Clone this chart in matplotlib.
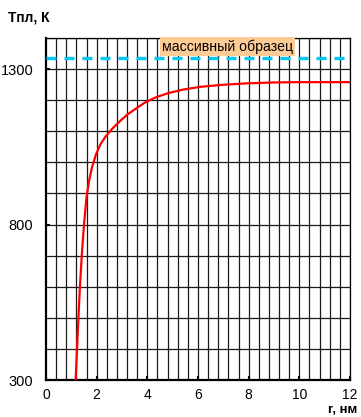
import numpy as np
import matplotlib
matplotlib.use("Agg")
import matplotlib.pyplot as plt

plt.rcParams['font.family'] = ['Liberation Sans', 'DejaVu Sans']

# melting temperature vs particle radius
r_nm = [1.17, 1.28, 1.34, 1.41, 1.50, 1.60, 1.70, 1.82, 1.97, 2.15, 2.35, 2.6,
        2.9, 3.2, 3.55, 3.9, 4.3, 4.8, 5.4, 6.1, 6.9, 7.9, 9.0, 10.0, 12.0]
t_melt = [300, 499, 601, 697, 800, 888, 940, 985, 1025, 1058, 1083, 1107,
          1131, 1153, 1173, 1192, 1208, 1222, 1234, 1243, 1249, 1254, 1257, 1258, 1258]
t_bulk = 1337
x_ticks = [0, 2, 4, 6, 8, 10, 12]
y_ticks = [300, 800, 1300]

fig = plt.figure(figsize=(3.61, 4.17), dpi=100)
ax = fig.add_axes([0.1274, 0.0887, 0.8421, 0.8202])

ax.set_xlim(0, 12)
ax.set_ylim(300, 1400)

for x in np.arange(0.4, 12.01, 0.4):
    ax.axvline(x, color='#1a1a1a', lw=0.9, zorder=1)
for y in range(400, 1401, 100):
    ax.axhline(y, color='#1a1a1a', lw=0.9, zorder=1)

ax.plot(r_nm, t_melt, color='#ff0000', lw=1.6, zorder=3)
bulk, = ax.plot([0, 12], [t_bulk, t_bulk], color='#00c8f5', lw=2.4, zorder=3)
bulk.set_dashes([3.0, 2.4])

ax.text(4.58, 1372, 'массивный образец', fontsize=10.2, va='center', ha='left',
        zorder=4, bbox=dict(boxstyle='square,pad=0.15', fc='#fccb96', ec='none'))

ax.set_xticks(x_ticks)
ax.set_yticks(y_ticks)
ax.tick_params(direction='in', length=3, width=1.5, labelsize=10.5)
ax.tick_params(axis='y', pad=9)
ax.tick_params(axis='x', pad=6, labelsize=10)
for s in ['left', 'bottom']:
    ax.spines[s].set_linewidth(1.6)
for s in ['right', 'top']:
    ax.spines[s].set_linewidth(0.9)

fig.text(0.022, 0.958, 'Тпл, К', fontsize=10, fontweight='bold', va='center')
fig.text(0.99, 0.002, 'r, нм', fontsize=9.5, fontweight='bold', ha='right', va='bottom')

fig.savefig('out.png', dpi=100)
